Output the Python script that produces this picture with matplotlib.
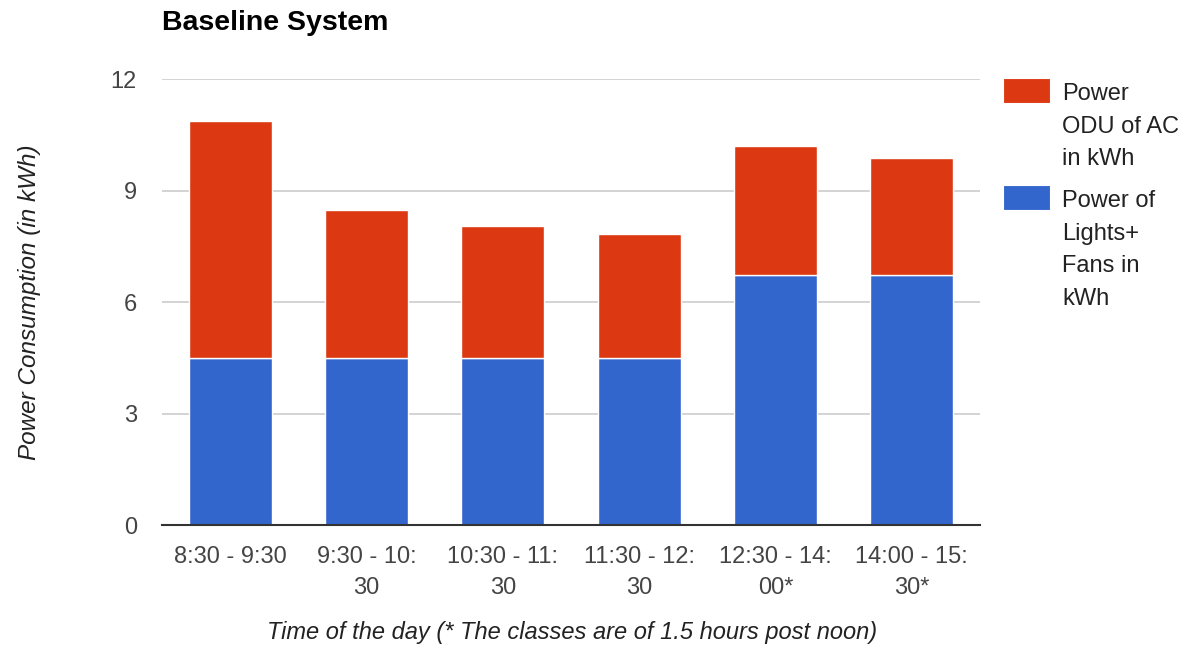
import matplotlib
matplotlib.use("Agg")
import matplotlib.pyplot as plt
from matplotlib.patches import Rectangle

plt.rcParams['font.family'] = ['Liberation Sans', 'DejaVu Sans']

categories = ["8:30 - 9:30", "9:30 - 10:\n30", "10:30 - 11:\n30",
              "11:30 - 12:\n30", "12:30 - 14:\n00*", "14:00 - 15:\n30*"]
lights_fans = [4.5, 4.5, 4.5, 4.5, 6.73, 6.73]
odu_ac = [6.37, 3.97, 3.56, 3.35, 3.47, 3.15]
y_ticks = [0, 3, 6, 9, 12]

RED = "#DC3912"
BLUE = "#3366CC"
TEXT = "#222222"
TICK = "#444444"

W, H = 1182, 650
fig = plt.figure(figsize=(W / 100, H / 100), dpi=100)
left, right, bottom, top = 162, 980, 525.3, 79.3
ax = fig.add_axes([left / W, 1 - bottom / H, (right - left) / W, (bottom - top) / H])

x = list(range(len(categories)))
ax.bar(x, lights_fans, width=0.61, color=BLUE, edgecolor="white", linewidth=1, zorder=3)
ax.bar(x, odu_ac, bottom=lights_fans, width=0.61, color=RED, edgecolor="white",
       linewidth=1, zorder=3)

ax.set_xlim(-0.5, len(categories) - 0.5)
ax.set_ylim(0, 12)
ax.set_yticks(y_ticks)
ax.set_yticklabels([str(t) for t in y_ticks], fontsize=17, color=TICK)
ax.set_xticks(x)
ax.set_xticklabels(categories, fontsize=17, color=TICK, linespacing=1.55, va="top")
ax.tick_params(axis="both", length=0)
ax.tick_params(axis="y", pad=18)
ax.tick_params(axis="x", pad=15)

ax.grid(axis="y", color="#cccccc", linewidth=1.2, zorder=0)
for s in ["top", "right", "left"]:
    ax.spines[s].set_visible(False)
ax.spines["bottom"].set_color("#333333")
ax.spines["bottom"].set_linewidth(1.5)
ax.spines["bottom"].set_zorder(4)

fig.text(162 / W, 1 - 23 / H, "Baseline System", fontsize=20.5, fontweight="bold",
         color="black", ha="left", va="center")
fig.text(572 / W, 1 - 632 / H, "Time of the day (* The classes are of 1.5 hours post noon)",
         fontsize=17, style="italic", color=TEXT, ha="center", va="center")
fig.text(30 / W, 1 - 302 / H, "Power Consumption (in kWh)", fontsize=17.5, style="italic",
         color=TEXT, rotation=90, ha="center", va="center")

# legend
legend_items = [(RED, "Power\nODU of AC\nin kWh", 78), (BLUE, "Power of\nLights+\nFans in\nkWh", 185)]
for color, label, ytop in legend_items:
    fig.patches.append(Rectangle((1003 / W, 1 - (ytop + 25) / H), 47 / W, 25 / H,
                                 transform=fig.transFigure, facecolor=color,
                                 edgecolor="white", linewidth=0.8))
    fig.text(1062 / W, 1 - (ytop + 5) / H, label, fontsize=17, color=TEXT,
             ha="left", va="top", linespacing=1.62)

fig.savefig("out.png", dpi=100)
